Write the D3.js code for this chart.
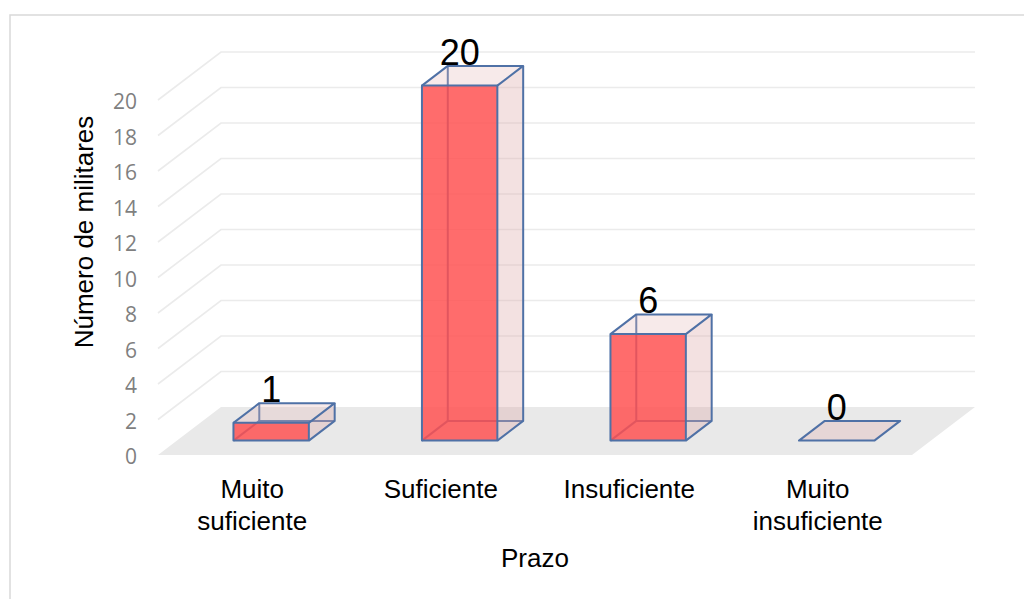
<!DOCTYPE html>
<html>
<head>
<meta charset="utf-8">
<script src="https://cdn.jsdelivr.net/npm/d3@7"></script>
<style>
  html, body { margin: 0; padding: 0; background: #ffffff; }
  svg { display: block; }
</style>
</head>
<body>
<svg id="chart" width="1024" height="599"></svg>
<script>
// ---- data ----
const categories = [["Muito", "suficiente"], ["Suficiente"], ["Insuficiente"], ["Muito", "insuficiente"]];
const values = [1, 20, 6, 0];
const yTicks = [0, 2, 4, 6, 8, 10, 12, 14, 16, 18, 20];
const yTitle = "Número de militares";
const xTitle = "Prazo";

// ---- layout ----
const W = 1024, H = 599;
const svg = d3.select("#chart");
const DX = 63, DY = -48;          // depth offset of the floor
const D0 = 0.30, D1 = 0.71;       // bar front/back depth fraction

const x = d3.scaleBand()
  .domain(d3.range(values.length))
  .range([158, 912])
  .paddingInner(0.6)
  .paddingOuter(0.3);
const y = d3.scaleLinear().domain([0, 20]).range([455, 100]);

function P(px, v, d) { return [px + d * DX, y(v) + d * DY]; }
const pts = arr => arr.map(p => p.join(",")).join(" ");

// chart border
svg.append("rect")
  .attr("x", 10).attr("y", 15)
  .attr("width", W + 20).attr("height", H + 20)
  .attr("fill", "#ffffff")
  .attr("stroke", "#d9d9d9").attr("stroke-width", 1.5);

const x0 = x.range()[0], x1 = x.range()[1];

// floor
svg.append("polygon")
  .attr("points", pts([P(x0, 0, 0), P(x1, 0, 0), P(x1, 0, 1), P(x0, 0, 1)]))
  .attr("fill", "#e9e9e9");

// gridlines (side diagonal + back wall)
const grid = svg.append("g").attr("stroke", "#ebebeb").attr("stroke-width", 1.6).attr("fill", "none");
yTicks.filter(t => t > 0).forEach(t => {
  grid.append("polyline")
    .attr("points", pts([P(x0, t, 0), P(x0, t, 1), P(x1, t, 1)]));
});

// y tick labels
svg.append("g").selectAll("text").data(yTicks).join("text")
  .attr("x", 137).attr("y", d => y(d) + 1)
  .attr("text-anchor", "end").attr("dominant-baseline", "central")
  .attr("font-family", "'Open Sans', sans-serif").attr("font-size", 21)
  .attr("fill", "#7f7f7f")
  .text(d => d);

// bars
const EDGE = "#4f71a6";
const bars = svg.append("g");
values.forEach((v, i) => {
  const bx0 = x(i), bx1 = x(i) + x.bandwidth();
  const g = bars.append("g");
  const fbl = P(bx0, 0, D0), fbr = P(bx1, 0, D0), ftl = P(bx0, v, D0), ftr = P(bx1, v, D0);
  const bbl = P(bx0, 0, D1), bbr = P(bx1, 0, D1), btl = P(bx0, v, D1), btr = P(bx1, v, D1);
  if (v === 0) {
    g.append("polygon").attr("points", pts([fbl, fbr, bbr, bbl]))
      .attr("fill", "rgb(225,180,180)").attr("fill-opacity", 0.35)
      .attr("stroke", EDGE).attr("stroke-width", 2).attr("stroke-linejoin", "round");
  } else {
    // hidden edges
    g.append("polyline").attr("points", pts([bbr, bbl, btl])).attr("fill", "none")
      .attr("stroke", EDGE).attr("stroke-width", 2);
    g.append("line").attr("x1", bbl[0]).attr("y1", bbl[1]).attr("x2", fbl[0]).attr("y2", fbl[1])
      .attr("stroke", EDGE).attr("stroke-width", 2);
    // faces
    g.append("polygon").attr("points", pts([fbl, fbr, ftr, ftl]))
      .attr("fill", "rgb(255,80,80)").attr("fill-opacity", 0.84);
    g.append("polygon").attr("points", pts([fbr, bbr, btr, ftr]))
      .attr("fill", "rgb(220,170,170)").attr("fill-opacity", 0.35);
    g.append("polygon").attr("points", pts([ftl, ftr, btr, btl]))
      .attr("fill", "rgb(230,185,185)").attr("fill-opacity", 0.3);
    // visible edges
    const vis = g.append("g").attr("fill", "none").attr("stroke", EDGE)
      .attr("stroke-width", 2).attr("stroke-linejoin", "round");
    vis.append("polygon").attr("points", pts([fbl, fbr, ftr, ftl]));
    vis.append("polyline").attr("points", pts([ftl, btl, btr, ftr]));
    vis.append("polyline").attr("points", pts([fbr, bbr, btr]));
  }
  // data label
  svg.append("text")
    .attr("x", (ftl[0] + ftr[0]) / 2)
    .attr("y", btl[1] - 1)
    .attr("text-anchor", "middle")
    .attr("font-family", "'Liberation Sans', Arial, sans-serif")
    .attr("font-size", 36).attr("fill", "#000")
    .text(v);
});

// category labels
const cat = svg.append("g")
  .attr("font-family", "'Liberation Sans', Arial, sans-serif")
  .attr("font-size", 26).attr("fill", "#000").attr("text-anchor", "middle");
categories.forEach((lines, i) => {
  const t = cat.append("text").attr("x", x(i) + x.bandwidth() / 2).attr("y", 498);
  lines.forEach((ln, k) => {
    t.append("tspan").attr("x", x(i) + x.bandwidth() / 2).attr("dy", k === 0 ? 0 : 32).text(ln);
  });
});

// axis titles
svg.append("text")
  .attr("x", (x0 + x1) / 2).attr("y", 567)
  .attr("text-anchor", "middle")
  .attr("font-family", "'Liberation Sans', Arial, sans-serif")
  .attr("font-size", 26).attr("fill", "#000")
  .text(xTitle);

svg.append("text")
  .attr("transform", "translate(93,232) rotate(-90)")
  .attr("text-anchor", "middle")
  .attr("font-family", "'Liberation Sans', Arial, sans-serif")
  .attr("font-size", 26).attr("fill", "#000")
  .text(yTitle);
</script>
</body>
</html>
